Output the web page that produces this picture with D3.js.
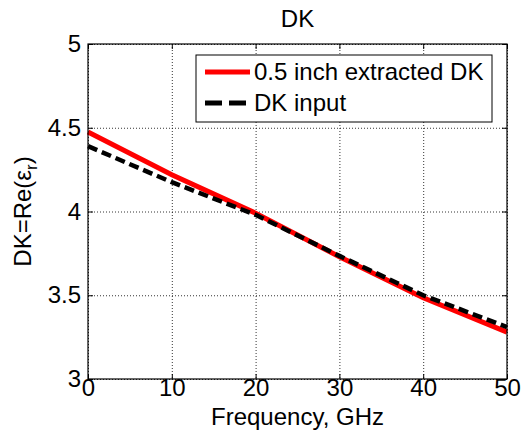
<!DOCTYPE html>
<html>
<head>
<meta charset="utf-8">
<script src="https://cdn.jsdelivr.net/npm/d3@7"></script>
<style>
  body { margin: 0; background: #fff; }
  svg { display: block; font-family: 'Liberation Sans', Arial, sans-serif; }
  .axis path { display: none; }
  .axis text { font-size: 24px; fill: #000; }
  .grid line { stroke: #000; stroke-width: 0.8; stroke-dasharray: 1,2; }
  .grid path { display: none; }
</style>
</head>
<body>
<svg width="522" height="441"></svg>
<script>
// chart data
var freqGHz = [0, 10, 20, 30, 40, 50];
var extractedDK = [4.475, 4.22, 3.99, 3.73, 3.485, 3.28];
var inputDK = [4.39, 4.175, 3.98, 3.735, 3.50, 3.31];
var xTicks = [0, 10, 20, 30, 40, 50];
var yTicks = [3, 3.5, 4, 4.5, 5];
var seriesNames = ['0.5 inch extracted DK', 'DK input'];

var svg = d3.select('svg');
var svgWidth = +svg.attr('width');
var svgHeight = +svg.attr('height');

var padding = {t: 44, r: 15, b: 62, l: 88};
var plotWidth = svgWidth - padding.l - padding.r;
var plotHeight = svgHeight - padding.t - padding.b;

svg.append('rect')
    .attr('width', svgWidth)
    .attr('height', svgHeight)
    .attr('fill', '#fff');

var plot = svg.append('g')
    .attr('transform', 'translate(' + [padding.l, padding.t] + ')');

var xScale = d3.scaleLinear().domain([0, 50]).range([0, plotWidth]);
var yScale = d3.scaleLinear().domain([3, 5]).range([plotHeight, 0]);

// grid
plot.append('g')
    .attr('class', 'grid')
    .call(d3.axisBottom(xScale).tickValues(xTicks).tickSize(plotHeight).tickFormat(''));
plot.append('g')
    .attr('class', 'grid')
    .call(d3.axisRight(yScale).tickValues(yTicks).tickSize(plotWidth).tickFormat(''));

// axes with inward ticks
var xAxis = plot.append('g')
    .attr('class', 'x axis')
    .attr('transform', 'translate(0,' + plotHeight + ')')
    .call(d3.axisBottom(xScale).tickValues(xTicks).tickSize(-5).tickPadding(0));
xAxis.selectAll('.tick text').attr('dy', '0.72em');

plot.append('g')
    .attr('class', 'y axis')
    .call(d3.axisLeft(yScale).tickValues(yTicks).tickSize(-5).tickPadding(7)
        .tickFormat(function(d) { return d3.format('')(d); }));

// top and right ticks
plot.append('g')
    .attr('class', 'axis')
    .call(d3.axisTop(xScale).tickValues(xTicks).tickSize(-5).tickFormat(''));
plot.append('g')
    .attr('class', 'axis')
    .attr('transform', 'translate(' + plotWidth + ',0)')
    .call(d3.axisRight(yScale).tickValues(yTicks).tickSize(-5).tickFormat(''));

plot.selectAll('.axis .tick line').attr('stroke', '#000');

// lines
var line = d3.line()
    .x(function(d) { return xScale(d[0]); })
    .y(function(d) { return yScale(d[1]); });

plot.append('path')
    .datum(d3.zip(freqGHz, extractedDK))
    .attr('d', line)
    .attr('fill', 'none')
    .attr('stroke', '#ff0000')
    .attr('stroke-width', 5);

plot.append('path')
    .datum(d3.zip(freqGHz, inputDK))
    .attr('d', line)
    .attr('fill', 'none')
    .attr('stroke', '#000')
    .attr('stroke-width', 4.5)
    .attr('stroke-dasharray', '10,5');

// frame
plot.append('rect')
    .attr('width', plotWidth)
    .attr('height', plotHeight)
    .attr('fill', 'none')
    .attr('stroke', '#000')
    .attr('stroke-width', 1.2);

// title and labels
svg.append('text')
    .attr('x', padding.l + plotWidth / 2)
    .attr('y', 27)
    .attr('text-anchor', 'middle')
    .style('font-size', '24px')
    .text('DK');

svg.append('text')
    .attr('x', padding.l + plotWidth / 2)
    .attr('y', 425)
    .attr('text-anchor', 'middle')
    .style('font-size', '24px')
    .text('Frequency, GHz');

var yLabel = svg.append('text')
    .attr('transform', 'translate(' + [31, padding.t + plotHeight / 2] + ') rotate(-90)')
    .attr('text-anchor', 'middle')
    .style('font-size', '24px');
yLabel.append('tspan').text('DK=Re(\u03b5');
yLabel.append('tspan').attr('dy', 6).style('font-size', '17px').text('r');
yLabel.append('tspan').attr('dy', -6).text(')');

// legend
var legend = svg.append('g')
    .attr('transform', 'translate(196,55)');
legend.append('rect')
    .attr('width', 296)
    .attr('height', 67)
    .attr('fill', '#fff')
    .attr('stroke', '#000')
    .attr('stroke-width', 1);

var legendItems = legend.selectAll('.legend-item')
    .data(seriesNames)
    .enter()
    .append('g')
    .attr('class', 'legend-item')
    .attr('transform', function(d, i) { return 'translate(0,' + (17 + i * 31) + ')'; });

legendItems.append('line')
    .attr('x1', 9)
    .attr('x2', 54)
    .attr('stroke', function(d, i) { return i === 0 ? '#ff0000' : '#000'; })
    .attr('stroke-width', 5)
    .attr('stroke-dasharray', function(d, i) { return i === 0 ? null : '17,7'; });

legendItems.append('text')
    .attr('x', 58)
    .attr('dy', '0.35em')
    .style('font-size', '24px')
    .text(function(d) { return d; });
</script>
</body>
</html>
